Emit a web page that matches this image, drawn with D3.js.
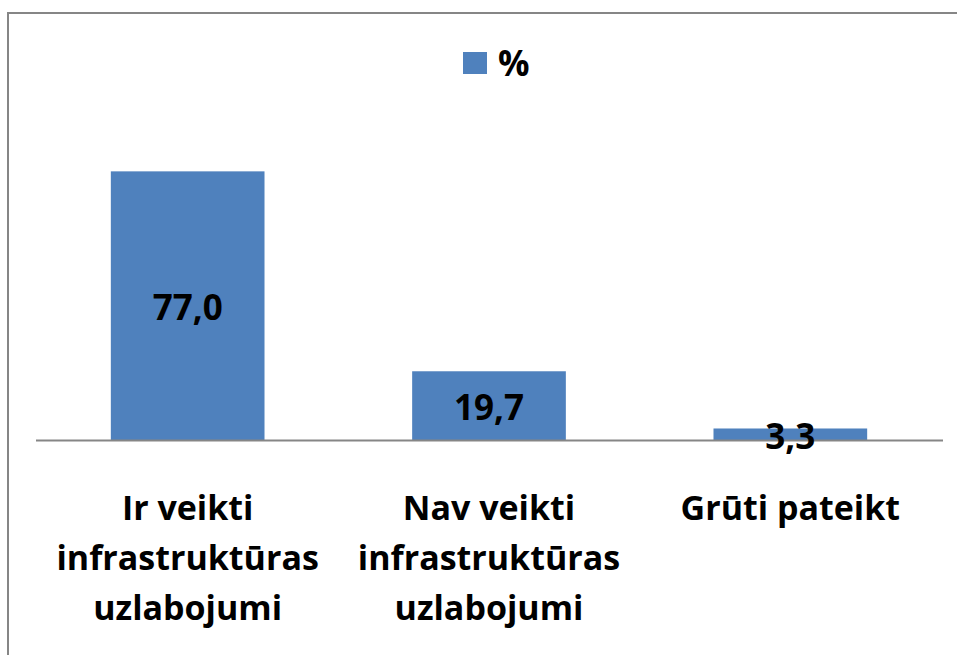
<!DOCTYPE html>
<html>
<head>
<meta charset="utf-8">
<script src="https://cdn.jsdelivr.net/npm/d3@7"></script>
<style>
  body { margin: 0; background: #fff; }
  svg text { font-family: "Open Sans", "DejaVu Sans", sans-serif; font-weight: bold; fill: #000; }
</style>
</head>
<body>
<div id="chart"></div>
<script>
const w = 957;
const h = 655;

// data
const categories = [
  ["Ir veikti", "infrastruktūras", "uzlabojumi"],
  ["Nav veikti", "infrastruktūras", "uzlabojumi"],
  ["Grūti pateikt"]
];
const values = [77.0, 19.7, 3.3];
const seriesName = "%";

const barColor = "#4F81BD";

const svg = d3.select("#chart")
  .append("svg")
  .attr("width", w)
  .attr("height", h);

// chart frame
svg.append("rect")
  .attr("x", 8)
  .attr("y", 13)
  .attr("width", w + 20)
  .attr("height", h + 20)
  .attr("fill", "none")
  .attr("stroke", "#868686")
  .attr("stroke-width", 2);

const xScale = d3.scaleBand()
  .domain(d3.range(values.length))
  .range([37, 941])
  .paddingInner(0.49)
  .paddingOuter(0.245);

const yScale = d3.scaleLinear()
  .domain([0, 90])
  .range([440, 126]);

svg.selectAll("rect.bar")
  .data(values)
  .enter()
  .append("rect")
  .attr("class", "bar")
  .attr("x", (d, i) => xScale(i))
  .attr("y", d => yScale(d))
  .attr("width", xScale.bandwidth())
  .attr("height", d => yScale(0) - yScale(d))
  .attr("fill", barColor);

// axis line
svg.append("line")
  .attr("x1", 36)
  .attr("x2", 943)
  .attr("y1", yScale(0) + 0.5)
  .attr("y2", yScale(0) + 0.5)
  .attr("stroke", "#868686")
  .attr("stroke-width", 2);

// value labels
svg.selectAll("text.val")
  .data(values)
  .enter()
  .append("text")
  .attr("class", "val")
  .attr("x", (d, i) => xScale(i) + xScale.bandwidth() / 2)
  .attr("y", d => (yScale(d) + yScale(0)) / 2 + 1)
  .attr("text-anchor", "middle")
  .attr("dominant-baseline", "central")
  .style("font-size", "35px")
  .text(d => d.toFixed(1).replace(".", ","));

// category labels
const cat = svg.selectAll("text.cat")
  .data(categories)
  .enter()
  .append("text")
  .attr("class", "cat")
  .attr("text-anchor", "middle")
  .style("font-size", "34px");

cat.selectAll("tspan")
  .data((d, i) => d.map(t => ({ t: t, i: i })))
  .enter()
  .append("tspan")
  .attr("x", d => xScale(d.i) + xScale.bandwidth() / 2)
  .attr("y", (d, j) => 520 + j * 50)
  .text(d => d.t);

// legend
const legend = svg.append("g");
legend.append("rect")
  .attr("x", 463)
  .attr("y", 52)
  .attr("width", 24)
  .attr("height", 22)
  .attr("fill", barColor);
legend.append("text")
  .attr("x", 498)
  .attr("y", 76)
  .style("font-size", "35px")
  .text(seriesName);
</script>
</body>
</html>
